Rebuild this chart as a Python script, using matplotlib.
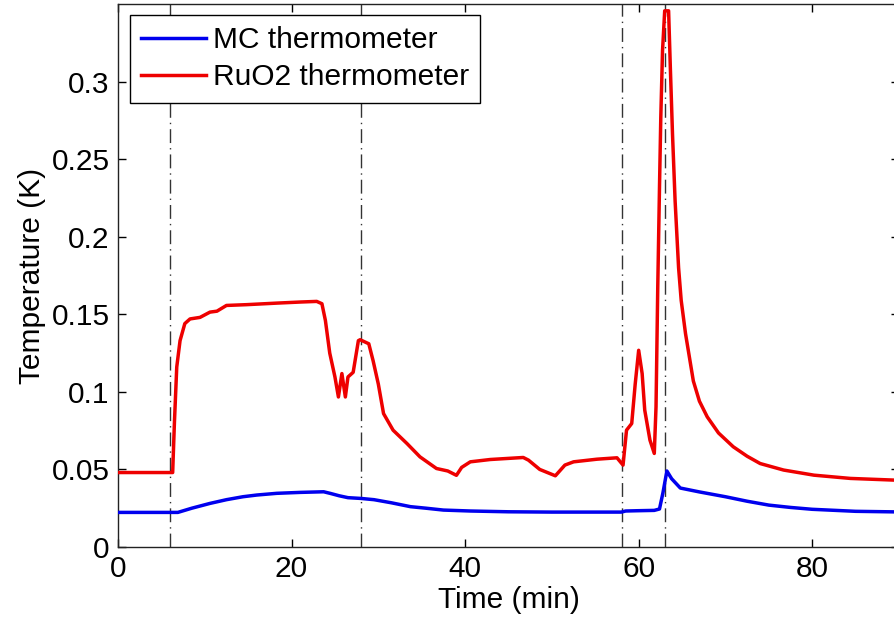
import matplotlib
matplotlib.use("Agg")
import matplotlib.pyplot as plt

plt.rcParams["font.family"] = ["Liberation Sans", "DejaVu Sans"]

# MC thermometer (blue)
mc_time = [0, 6.9, 8.5, 10.6, 12.5, 14.4, 16, 18.3, 21, 23.7, 24.5, 25.5,
           26.5, 28, 29.5, 31.5, 33.7, 35.5, 37.5, 40.6, 45, 50, 55, 58,
           58.5, 60, 61.8, 62.4, 62.8, 63.25, 63.8, 64.8, 67, 70, 72.5, 75,
           77.5, 80, 85, 90]
mc_temp = [0.0223, 0.0223, 0.025, 0.0281, 0.0305, 0.0324, 0.0335, 0.0346,
           0.0352, 0.0356, 0.0345, 0.033, 0.0318, 0.0313, 0.0305, 0.0285,
           0.026, 0.025, 0.0238, 0.0232, 0.0227, 0.0225, 0.0225, 0.0225,
           0.0232, 0.0234, 0.0236, 0.0245, 0.035, 0.049, 0.044, 0.038,
           0.0355, 0.0324, 0.0295, 0.027, 0.0255, 0.0243, 0.023, 0.0226]

# RuO2 thermometer (red)
ruo2_time = [0, 6.3, 6.5, 6.77, 7.15, 7.7, 8.3, 9.45, 10.6, 11.4, 12.5, 14.8,
             18.3, 21, 22.9, 23.5, 23.9, 24.4, 25.0, 25.4, 25.8, 26.2, 26.5,
             27.1, 27.7, 27.9, 28.9, 29.4, 30.0, 30.6, 31.7, 33.3, 34.8,
             36.7, 38.0, 39.0, 39.6, 40.6, 42.9, 46.7, 47.3, 48.6, 50.4,
             51.5, 52.5, 55.2, 57.5, 58.2, 58.6, 59.2, 59.6, 60.0, 60.4,
             60.7, 61.3, 61.8, 62.0, 62.2, 62.4, 62.55, 62.75, 63.0, 63.45,
             63.65, 63.9, 64.2, 64.6, 64.9, 65.4, 66.3, 67.0, 67.9, 69.2,
             70.9, 72.5, 74.0, 76.7, 80.2, 84.4, 90]
ruo2_temp = [0.048, 0.048, 0.08, 0.116, 0.133, 0.144, 0.147, 0.148, 0.1514,
             0.152, 0.1557, 0.1562, 0.1572, 0.1579, 0.1583, 0.1568, 0.146,
             0.125, 0.1096, 0.0967, 0.1118, 0.0967, 0.1096, 0.1126, 0.133,
             0.1336, 0.131, 0.12, 0.105, 0.086, 0.0753, 0.0667, 0.0581,
             0.0506, 0.049, 0.0462, 0.0513, 0.0549, 0.0564, 0.0577, 0.056,
             0.05, 0.0459, 0.0528, 0.0549, 0.0566, 0.0575, 0.0528, 0.0753,
             0.0796, 0.105, 0.1268, 0.1118, 0.0882, 0.0689, 0.0603, 0.0903,
             0.1675, 0.232, 0.277, 0.32, 0.3456, 0.3456, 0.309, 0.266, 0.223,
             0.18, 0.159, 0.1375, 0.107, 0.094, 0.0839, 0.0735, 0.0646,
             0.0585, 0.0538, 0.0496, 0.0463, 0.0442, 0.043]

# event markers (min)
events = [6.0, 28.0, 58.1, 63.05]

x_ticks = [0, 20, 40, 60, 80]
y_ticks = [0, 0.05, 0.1, 0.15, 0.2, 0.25, 0.3]
y_ticklabels = ["0", "0.05", "0.1", "0.15", "0.2", "0.25", "0.3"]

fs = 21.5

fig = plt.figure(figsize=(8.95, 6.24), dpi=100)
ax = fig.add_axes([118 / 895, 77 / 624, 781 / 895, 543 / 624])

for t in events:
    ax.axvline(t, color="#333333", lw=1.0, dashes=(10, 3.6, 1, 3.6), zorder=1)

ax.plot(mc_time, mc_temp, color="#0000ee", lw=2.5, label="MC thermometer",
        zorder=3)
ax.plot(ruo2_time, ruo2_temp, color="#ee0000", lw=2.5,
        label="RuO2 thermometer", zorder=3)

ax.set_xlim(0, 90)
ax.set_ylim(0, 0.35)
ax.set_xticks(x_ticks)
ax.set_yticks(y_ticks)
ax.set_yticklabels(y_ticklabels)
ax.tick_params(direction="in", length=6, width=1, top=True, right=True,
               labelsize=fs, pad=6)
for s in ax.spines.values():
    s.set_linewidth(1.0)
    s.set_color("#222222")

ax.set_xlabel("Time (min)", fontsize=fs, labelpad=2)
ax.set_ylabel("Temperature (K)", fontsize=fs, labelpad=4)

leg = ax.legend(loc="upper left", bbox_to_anchor=(130 / 895, 1 - 15 / 624),
                bbox_transform=fig.transFigure, borderaxespad=0,
                fontsize=fs, fancybox=False, framealpha=1, edgecolor="black",
                handlelength=2.15, handletextpad=0.25, labelspacing=0.3,
                borderpad=0.38)
leg.get_frame().set_linewidth(1.0)
leg.set_zorder(5)

fig.savefig("out.png", dpi=100)
